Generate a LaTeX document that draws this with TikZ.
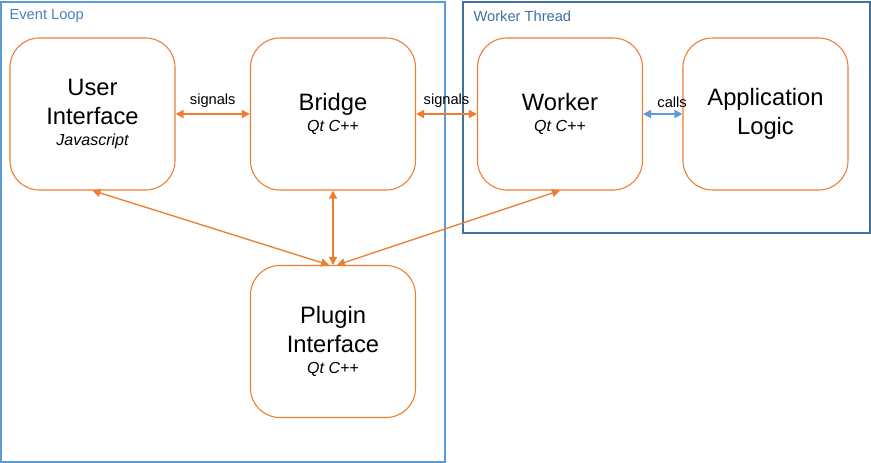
\documentclass[tikz,border=0pt]{standalone}
\usepackage{fontspec}
\setmainfont{Liberation Sans}
\usetikzlibrary{arrows.meta,positioning}
\definecolor{boxorange}{HTML}{ED7D31}
\definecolor{loopblue}{HTML}{5B9BD5}
\definecolor{looptext}{HTML}{4A80C0}
\definecolor{threadblue}{HTML}{41719C}
\begin{document}
\begin{tikzpicture}[x=0.75pt,y=-0.75pt,
		block/.style={draw=boxorange, line width=0.8pt, rounded corners=22pt,
			minimum width=123.75pt, minimum height=114pt, align=center,
			font=\fontsize{17.8}{21.75}\selectfont},
		link/.style={draw=boxorange, line width=1pt, {Triangle[length=6pt,width=6pt]}-{Triangle[length=6pt,width=6pt]}},
		calllink/.style={link, draw=loopblue},
		tag/.style={font=\fontsize{11}{13}\selectfont, inner sep=1pt}]
		\useasboundingbox (0,0) rectangle (871,463);
		% threads
		\draw[loopblue, line width=0.8pt] (1,2) rectangle (445,462);
		\draw[threadblue, line width=0.8pt] (463,2) rectangle (870,233);
		\node[tag, anchor=west, text=looptext] (looplabel) at (8,16) {Event Loop};
		\node[tag, anchor=west, text=threadblue] (threadlabel) at (472,16) {Worker Thread};
		% components
		\node[block] (ui) at (92.5,114) {User\\Interface\\[-5.5pt]{\fontsize{12}{14}\selectfont\itshape Javascript}};
		\node[block] (bridge) at (333,114) {Bridge\\[-5.5pt]{\fontsize{12}{14}\selectfont\itshape Qt C++}};
		\node[block] (worker) at (560,114) {Worker\\[-5.5pt]{\fontsize{12}{14}\selectfont\itshape Qt C++}};
		\node[block] (logic) at (765.5,114) {Application\\Logic};
		\node[block] (plugin) at (333,341.5) {Plugin\\Interface\\[-5.5pt]{\fontsize{12}{14}\selectfont\itshape Qt C++}};
		% connections
		\draw[link] (ui) -- (bridge) node[tag, midway, above=3pt] {signals};
		\draw[link] (bridge) -- (worker) node[tag, midway, above=3pt] {signals};
		\draw[calllink] (worker) -- (logic) node[tag, midway, above=3pt, xshift=7pt] {calls};
		\draw[link] (ui.south) -- ([xshift=-3pt]plugin.north);
		\draw[link] (bridge.south) -- (plugin.north);
		\draw[link] (worker.south) -- ([xshift=3pt]plugin.north);
	\end{tikzpicture}
\end{document}
